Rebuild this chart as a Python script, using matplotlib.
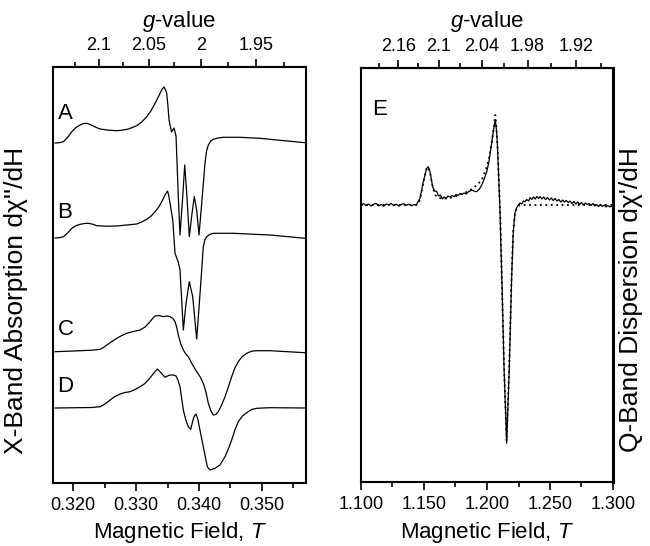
import numpy as np
import matplotlib
matplotlib.use("Agg")
import matplotlib.pyplot as plt

plt.rcParams['font.family'] = ['Liberation Sans', 'DejaVu Sans']
plt.rcParams['mathtext.fontset'] = 'custom'
plt.rcParams['mathtext.rm'] = 'Liberation Sans'
plt.rcParams['mathtext.it'] = 'Liberation Sans:italic'

# X-band spectra (field in T, signal in arbitrary units relative to each baseline)
field_a = [0.31714, 0.31780, 0.31846, 0.31912, 0.31979, 0.32045, 0.32111, 0.32164, 0.32217,
           0.32270, 0.32322, 0.32376, 0.32429, 0.32560, 0.32694, 0.32780, 0.32878, 0.33011,
           0.33090, 0.33170, 0.33240, 0.33302, 0.33345, 0.33381, 0.33415, 0.33444, 0.33465,
           0.33487, 0.33505, 0.33524, 0.33563, 0.33603, 0.33635, 0.33671, 0.33698, 0.33741,
           0.33773, 0.33805, 0.33846, 0.33889, 0.33925, 0.33963, 0.34000, 0.34043, 0.34095,
           0.34120, 0.34148, 0.34185, 0.34227, 0.34300, 0.34386, 0.34651, 0.34968, 0.35127,
           0.35683]
sig_a = [0, 0.3, 1.3, 5.5, 11.3, 15.5, 18, 19.5, 19.7, 18.5, 17, 15.3, 14, 12.8, 12.3, 12.8, 14,
         17.3, 21, 26.3, 32.5, 39.7, 45, 49.7, 54, 56, 53.5, 49.7, 38, 23, 11, 15, 7, -53.7, -92,
         -53.7, -22, -50.3, -93.7, -70.3, -53.7, -67, -92, -60.3, -20.3, -8, -2, 1.8, 3.7, 5,
         5.7, 5.7, 4.7, 3.7, 0.3]

field_b = [0.31714, 0.31780, 0.31846, 0.31912, 0.31979, 0.32045, 0.32111, 0.32177, 0.32243,
           0.32310, 0.32376, 0.32530, 0.32694, 0.33011, 0.33090, 0.33170, 0.33240, 0.33302,
           0.33360, 0.33408, 0.33460, 0.33500, 0.33520, 0.33540, 0.33583, 0.33619, 0.33646,
           0.33671, 0.33698, 0.33751, 0.33794, 0.33846, 0.33900, 0.33963, 0.34005, 0.34043,
           0.34068, 0.34095, 0.34122, 0.34170, 0.34227, 0.34544, 0.35127, 0.35683]
sig_b = [0, 0.3, 1.3, 5, 9.7, 12.3, 13.7, 14.5, 14.7, 13.8, 12.3, 11.8, 12, 14, 16, 18.7, 22,
         26.3, 31, 36.3, 43, 47, 42, 34.7, 18, -15.3, -20, -24, -32, -92, -65.3, -43.7, -58.7,
         -101, -65.3, -32, -8.7, -1.5, 1.3, 3.5, 4.7, 4.7, 3, -0.3]

field_c = [0.31714, 0.32005, 0.32300, 0.32429, 0.32482, 0.32535, 0.32615, 0.32694, 0.32773,
           0.32852, 0.32958, 0.33063, 0.33143, 0.33222, 0.33262, 0.33302, 0.33370, 0.33433,
           0.33490, 0.33540, 0.33585, 0.33619, 0.33645, 0.33671, 0.33711, 0.33751, 0.33790,
           0.33830, 0.33884, 0.33963, 0.34020, 0.34068, 0.34110, 0.34148, 0.34190, 0.34227,
           0.34266, 0.34306, 0.34360, 0.34413, 0.34466, 0.34519, 0.34570, 0.34624, 0.34680,
           0.34757, 0.34836, 0.34916, 0.35127, 0.35683]
sig_c = [0.3, 1, 1.8, 2.7, 4.5, 7, 10.5, 13.7, 16.5, 18.7, 20.5, 22, 25, 30.3, 33.5, 36, 36.5,
         35.3, 36, 35.3, 33.5, 30.3, 25, 17, 8, 2, -2, -4.7, -11.3, -19.7, -25, -31.3, -40,
         -51.3, -59, -63, -62.5, -59.7, -53, -44.7, -35, -24.7, -16, -9.7, -5, -1.3, 0.8, 1.3,
         1.3, -0.7]

field_d = [0.31714, 0.32300, 0.32429, 0.32508, 0.32587, 0.32666, 0.32746, 0.32825, 0.32905,
           0.32984, 0.33063, 0.33130, 0.33195, 0.33270, 0.33338, 0.33400, 0.33460, 0.33500,
           0.33540, 0.33590, 0.33635, 0.33665, 0.33698, 0.33751, 0.33790, 0.33830, 0.33868,
           0.33900, 0.33921, 0.33952, 0.33980, 0.34005, 0.34068, 0.34132, 0.34175, 0.34254,
           0.34333, 0.34413, 0.34466, 0.34519, 0.34570, 0.34624, 0.34690, 0.34757, 0.34836,
           0.34916, 0.35127, 0.35683]
sig_d = [0, 0.5, 1.3, 4, 8, 11.5, 14, 15.5, 16.3, 18.5, 21.3, 24, 28, 34, 39, 35, 30.7, 32, 33,
         33, 32, 28, 21.3, -2, -12, -18.7, -21.3, -13, -8.7, -6, -11, -18.7, -38.7, -58.7, -62,
         -60.3, -57, -48.7, -41, -32, -22, -13.7, -8, -4.7, -1.5, -0.3, 0.3, 0]

labels_x = ['A', 'B', 'C', 'D']
offsets_x = [340, 245, 131, 75]

# Q-band spectrum (experimental, solid) and simulation (dotted)
field_e = [1.100, 1.102, 1.104, 1.106, 1.108, 1.110, 1.112, 1.114, 1.116, 1.118, 1.120, 1.122,
           1.124, 1.126, 1.128, 1.130, 1.132, 1.134, 1.136, 1.138, 1.140, 1.142, 1.144,
           1.1468, 1.1494, 1.1521, 1.1534, 1.1548, 1.1569, 1.1585, 1.1601, 1.1615, 1.1630,
           1.1645, 1.1660, 1.1675, 1.1690, 1.1706, 1.1722, 1.1738, 1.1754, 1.1770, 1.1786,
           1.1802, 1.1818, 1.1834, 1.1850, 1.1865, 1.1880, 1.1895, 1.1918, 1.1940, 1.1958,
           1.1978, 1.1998, 1.2015, 1.2029, 1.2043, 1.2056, 1.2066, 1.2075, 1.2082, 1.2092,
           1.2103, 1.2120, 1.2135, 1.2156, 1.2177, 1.2195, 1.2208, 1.2222, 1.2235, 1.2248,
           1.2262, 1.2275, 1.2290, 1.2302, 1.2315, 1.2330, 1.2342, 1.2355, 1.2370, 1.2383,
           1.2396, 1.2410, 1.2421, 1.2435, 1.2450, 1.2465, 1.2480, 1.2495, 1.2510, 1.2526,
           1.2540, 1.2555, 1.2570, 1.2585, 1.2600, 1.2615, 1.2630, 1.2645, 1.2659, 1.2675,
           1.2690, 1.2705, 1.2720, 1.2735, 1.2750, 1.2765, 1.2780, 1.2795, 1.2810, 1.2825,
           1.2840, 1.2855, 1.2870, 1.2885, 1.2900, 1.2915, 1.2930, 1.2945, 1.2960, 1.2975,
           1.2990, 1.3000]
sig_e = [0, 1.5, -0.5, 1, -1, 0.8, 1.5, -0.8, 0.5, -1.2, 1, 0.2, 1.4, -0.6, 0.8, -1, 0.6, 1.2,
         -0.4, 0.9, -0.8, 0.5, 0.3,
         6.7, 23, 36.7, 38.3, 33, 18, 14, 13.5, 9, 10, 6, 8, 6.5, 9, 8, 9.5, 8.5, 10.5, 9.5, 11.5,
         10.5, 12, 11, 13, 14, 15, 14, 13.3, 16, 20, 26, 33.3, 43, 55, 67, 78.3, 85, 75, 61.7,
         30, -5, -85, -162, -238, -162, -75, -28, -8, -3, 0,
         2, 1, 4, 3.3, 5.5, 4, 7.5, 5.5, 8, 6, 8.5, 6.5, 8.5, 6, 8, 5.5, 7.5, 5, 7, 4.5, 6.5, 4,
         5.5, 3, 5, 3, 4.5, 2.5, 4, 1.5, 3.5, 1, 3, 0.5, 2.5, 0, 2, 0.5, 1.5, -0.5, 1.5, -1, 0.5,
         -1.5, 0.5, -1.5, 0, -2, -0.5, -2, -1, -1.5]

field_sim = [1.100, 1.1440, 1.1460, 1.1480, 1.1500, 1.1520, 1.1534, 1.1550, 1.1570, 1.1590,
             1.1610, 1.1640, 1.1680, 1.1720, 1.1760, 1.1800, 1.1840, 1.1880, 1.1920, 1.1958,
             1.1990, 1.2015, 1.2040, 1.2056, 1.2066, 1.2076, 1.2085, 1.2095, 1.2105, 1.2120,
             1.2135, 1.2156, 1.2177, 1.2195, 1.2208, 1.2222, 1.2240, 1.2260, 1.300]
sig_sim = [0, 0, 3, 12, 26, 36, 38, 31, 17, 10, 7.5, 6.5, 6.5, 7.5, 9, 11, 13, 16, 20, 25, 35,
           46, 65, 80, 90, 76, 55, 22, -10, -85, -160, -236, -160, -72, -27, -8, -2, 0, 0]

g_ticks_x = [2.1, 2.05, 2.0, 1.95]
g_labels_x = ['2.1', '2.05', '2', '1.95']
g_minor_x = [2.125, 2.075, 2.025, 1.975, 1.925]
g_ticks_q = [2.16, 2.1, 2.04, 1.98, 1.92]
g_labels_q = ['2.16', '2.1', '2.04', '1.98', '1.92']
g_minor_q = [2.19, 2.13, 2.07, 2.01, 1.95, 1.89]

k_x = 0.6806   # g * B for X-band
k_q = 2.4397   # g * B for Q-band

fig = plt.figure(figsize=(6.5, 5.46), dpi=100)
ax1 = fig.add_axes([53 / 650, 1 - 483 / 546, 253 / 650, 416 / 546])
ax2 = fig.add_axes([361 / 650, 1 - 482 / 546, 252 / 650, 414 / 546])

for x, s, off in zip([field_a, field_b, field_c, field_d], [sig_a, sig_b, sig_c, sig_d], offsets_x):
    ax1.plot(x, np.array(s) + off, color='black', lw=0.9)
ax1.set_xlim(0.3168, 0.357)
ax1.set_ylim(0, 416)
label_y = [0.889, 0.651, 0.368, 0.231]
for lab, ly in zip(labels_x, label_y):
    ax1.text(0.018, ly, lab, transform=ax1.transAxes, fontsize=16, va='center', ha='left')

ax2.plot(field_e, sig_e, color='black', lw=0.9)
ax2.plot(field_sim, sig_sim, color='black', lw=1.3, linestyle=(0, (1, 2)))
ax2.set_xlim(1.1, 1.3)
ax2.set_ylim(-277, 137)
ax2.text(0.045, 0.899, 'E', transform=ax2.transAxes, fontsize=16, va='center', ha='left')

for ax, k, gt, gl, gm, xt, xm, fmt in [
        (ax1, k_x, g_ticks_x, g_labels_x, g_minor_x,
         [0.320, 0.330, 0.340, 0.350], [0.325, 0.335, 0.345, 0.355], '%.3f'),
        (ax2, k_q, g_ticks_q, g_labels_q, g_minor_q,
         [1.10, 1.15, 1.20, 1.25, 1.30], [1.125, 1.175, 1.225, 1.275], '%.3f')]:
    ax.set_yticks([])
    ax.set_xticks(xt)
    ax.set_xticklabels([fmt % v for v in xt])
    ax.set_xticks(xm, minor=True)
    ax.tick_params(axis='x', which='major', direction='out', length=6, width=1.2, labelsize=13, pad=4)
    ax.tick_params(axis='x', which='minor', direction='out', length=3.5, width=1.2)
    for sp in ax.spines.values():
        sp.set_linewidth(1.5)
    sec = ax.secondary_xaxis('top', functions=(lambda b, k=k: k / b, lambda g, k=k: k / g))
    sec.set_xticks(gt)
    sec.set_xticklabels(gl)
    sec.set_xticks(gm, minor=True)
    sec.tick_params(axis='x', which='major', direction='out', length=6, width=1.2, labelsize=13, pad=3)
    sec.tick_params(axis='x', which='minor', direction='out', length=3.5, width=1.2)
    sec.spines['top'].set_linewidth(1.5)
    cx = ax.get_position().x0 + ax.get_position().width / 2
    fig.text(cx, 1 - 22 / 546, '$g$-value', ha='center', va='center', fontsize=16)
    fig.text(cx, 1 - 538 / 546, 'Magnetic Field, $T$', ha='center', va='baseline', fontsize=16)

ax2.spines['right'].set_linewidth(2.2)

fig.text(16 / 650, 1 - 300 / 546, "X-Band Absorption d\u03c7''/dH", rotation=90,
         ha='center', va='center', fontsize=19)
fig.text(631 / 650, 1 - 300 / 546, "Q-Band Dispersion d\u03c7'/dH", rotation=90,
         ha='center', va='center', fontsize=19)

fig.savefig('out.png', dpi=100)
